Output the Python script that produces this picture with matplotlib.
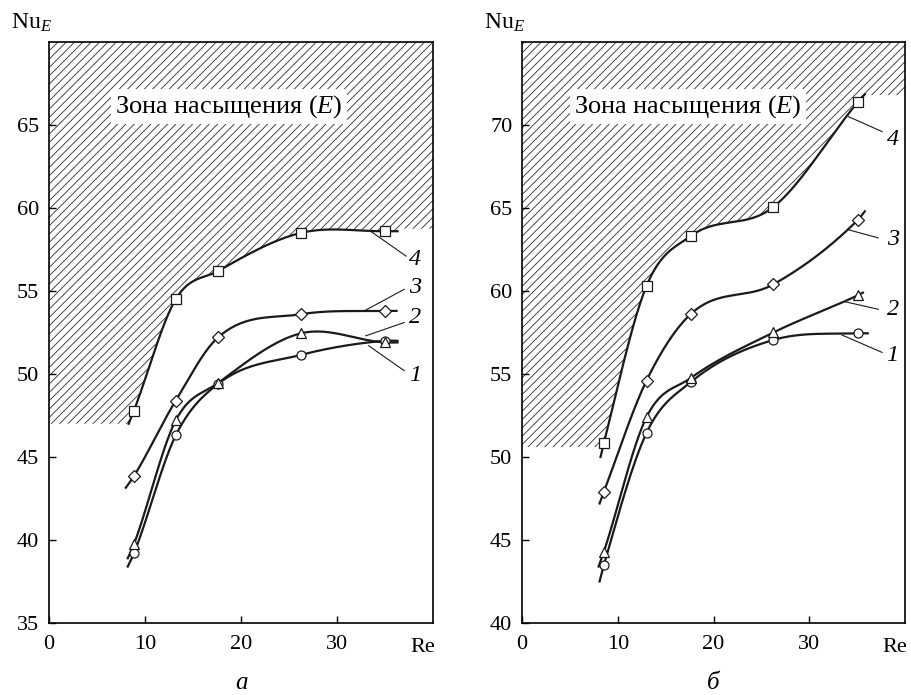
import numpy as np
import matplotlib
matplotlib.use("Agg")
import matplotlib.pyplot as plt

plt.rcParams['font.family'] = ['Liberation Serif', 'DejaVu Serif']
plt.rcParams['mathtext.fontset'] = 'custom'
plt.rcParams['mathtext.rm'] = 'Liberation Serif'
plt.rcParams['mathtext.it'] = 'Liberation Serif:italic'
plt.rcParams['hatch.linewidth'] = 0.6

# measured Re values (markers)
re_pts = [8.85, 13.2, 17.6, 26.25, 35.0]

# panel a: Nu_E for curves 1..4
a_nu1 = [39.2, 46.3, 49.4, 51.15, 52.0]
a_nu2 = [39.75, 47.2, 49.45, 52.45, 51.9]
a_nu3 = [43.85, 48.4, 52.2, 53.6, 53.8]
a_nu4 = [47.8, 54.5, 56.2, 58.5, 58.6]
# where the drawn curves start and end (Re, Nu)
a_tail_start = [(8.2, 38.4), (8.2, 38.9), (8.0, 43.15), (8.3, 47.0)]
a_tail_end = [(36.3, 52.0), (36.3, 51.9), (36.2, 53.8), (36.3, 58.6)]

# panel б
b_re = [8.55, 13.0, 17.6, 26.25, 35.1]
b_nu1 = [43.5, 51.45, 54.5, 57.05, 57.45]
b_nu2 = [44.3, 52.4, 54.75, 57.5, 59.75]
b_nu3 = [47.9, 54.6, 58.6, 60.4, 64.3]
b_nu4 = [50.85, 60.3, 63.3, 65.06, 71.4]
b_tail_start = [(8.1, 42.5), (8.0, 43.4), (8.1, 47.2), (8.2, 50.0)]
b_tail_end = [(36.1, 57.45), (35.6, 59.9), (35.8, 64.8), (35.8, 71.85)]

markers = ['o', '^', 'D', 's']
msizes = [6.5, 7.5, 6.5, 6.5]
curve_labels = ['1', '2', '3', '4']

# label positions: (text x, text y, leader from x, y, leader to x, y)
a_lab = [(38.1, 49.9, 33.3, 51.7, 37.0, 50.2),
         (38.1, 53.4, 33.0, 52.3, 37.0, 53.1),
         (38.1, 55.2, 33.0, 53.85, 37.0, 55.1),
         (38.1, 56.9, 33.5, 58.6, 37.2, 57.1)]
b_lab = [(38.7, 56.1, 33.4, 57.35, 37.6, 56.3),
         (38.7, 58.9, 33.75, 59.35, 37.2, 58.9),
         (38.7, 63.1, 34.0, 63.7, 37.2, 63.2),
         (38.7, 69.1, 34.1, 70.5, 37.6, 69.6)]


def smooth(x, y, n=40):
    # cubic Hermite through the points, tangents = mean of the two chords
    x = np.asarray(x, float)
    y = np.asarray(y, float)
    h = np.diff(x)
    d = np.diff(y) / h
    m = np.zeros_like(x)
    m[0], m[-1] = d[0], d[-1]
    for i in range(1, len(x) - 1):
        m[i] = 0.5 * (d[i - 1] + d[i])
    xs, ys = [], []
    for i in range(len(x) - 1):
        t = np.linspace(0, 1, n)
        if i > 0:
            t = t[1:]
        h00 = 2 * t**3 - 3 * t**2 + 1
        h10 = t**3 - 2 * t**2 + t
        h01 = -2 * t**3 + 3 * t**2
        h11 = t**3 - t**2
        xs.append(x[i] + t * h[i])
        ys.append(h00 * y[i] + h10 * h[i] * m[i] + h01 * y[i + 1] + h11 * h[i] * m[i + 1])
    return np.concatenate(xs), np.concatenate(ys)


def panel(ax, re, series, starts, ends, labs, ylim, yticks, floor, shelf, sub):
    paths = []
    for k, nu in enumerate(series):
        xs = [starts[k][0]] + list(re) + [ends[k][0]]
        ys = [starts[k][1]] + list(nu) + [ends[k][1]]
        cx, cy = smooth(xs, ys)
        paths.append((cx, cy))
        ax.plot(cx, cy, color='#1a1a1a', lw=1.6, zorder=3)
        ax.plot(re, nu, ls='none', marker=markers[k], ms=msizes[k],
                mfc='white', mec='#1a1a1a', mew=0.9, zorder=4)

    # saturation zone, bounded by curve 4
    cx, cy = paths[3]
    keep = cy >= floor
    top = ylim[1]
    px = [0, 0, cx[keep][0]] + list(cx[keep]) + [cx[-1], 40, 40]
    py = [top, floor, floor] + list(cy[keep]) + [shelf, shelf, top]
    ax.fill(px, py, facecolor='none', edgecolor='#2a2a2a', hatch='////',
            linewidth=0, zorder=1)

    for k, (tx, ty, x0, y0, x1, y1) in enumerate(labs):
        ax.plot([x0, x1], [y0, y1], color='#1a1a1a', lw=0.8, zorder=3)
        ax.text(tx, ty, curve_labels[k], fontsize=17.5, style='italic',
                ha='center', va='center')

    ax.set_xlim(0, 40)
    ax.set_ylim(*ylim)
    ax.set_xticks([0, 10, 20, 30])
    ax.set_yticks(yticks)
    ax.tick_params(direction='in', length=5, width=1, labelsize=16, pad=7)
    ax.tick_params(axis='x', pad=9)
    for s in ax.spines.values():
        s.set_linewidth(1.2)
    ax.text(1.005, -0.042, 'Re', transform=ax.transAxes, fontsize=16,
            ha='right', va='center')
    ax.text(0.5, -0.103, sub, transform=ax.transAxes, fontsize=18,
            style='italic', ha='center', va='center')
    ax.text(-0.099, 1.013, r'Nu$_{\mathit{E}}$', transform=ax.transAxes,
            fontsize=17, ha='left', va='bottom')


fig = plt.figure(figsize=(9.11, 6.95), dpi=100)
ax1 = fig.add_axes([0.0538, 0.1036, 0.4215, 0.836])
ax2 = fig.add_axes([0.573, 0.1036, 0.4205, 0.836])

panel(ax1, re_pts, [a_nu1, a_nu2, a_nu3, a_nu4], a_tail_start, a_tail_end,
      a_lab, (35, 70), [35, 40, 45, 50, 55, 60, 65], 47.0, 58.75, 'а')
panel(ax2, b_re, [b_nu1, b_nu2, b_nu3, b_nu4], b_tail_start, b_tail_end,
      b_lab, (40, 75), [40, 45, 50, 55, 60, 65, 70], 50.6, 71.8, 'б')

for ax, x, y in [(ax1, 18.75, 66.1), (ax2, 17.3, 71.1)]:
    ax.text(x, y, r'Зона насыщения ($\mathit{E}$)', fontsize=19,
            ha='center', va='center', zorder=5,
            bbox=dict(facecolor='white', edgecolor='none', pad=3))

fig.savefig('out.png', dpi=100)
